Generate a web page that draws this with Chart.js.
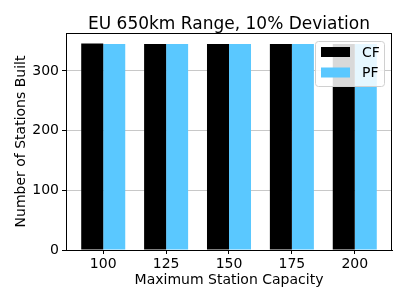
<!DOCTYPE html>
<html lang="en">
<head>
    <meta charset="UTF-8">
    <title>EU 650km Range, 10% Deviation</title>
    <script src="https://cdn.jsdelivr.net/npm/chart.js"></script>
    <style>
        html, body { margin: 0; padding: 0; background: #fff; }
        #wrap { width: 407px; height: 305px; }
    </style>
</head>
<body>
    <div id="wrap"><canvas id="chart" width="407" height="305"></canvas></div>

    <script>
        const capacities = [100, 125, 150, 175, 200];
        const cfValues = [346, 345, 345, 345, 345];
        const pfValues = [345, 345, 345, 345, 345];
        const yTicks = [0, 100, 200, 300];
        const titleText = 'EU 650km Range, 10% Deviation';

        const FONT = 'DejaVu Sans';

        // frame round the plot, title and the boxed legend (matplotlib look)
        const decor = {
            id: 'decor',
            afterDraw(chart) {
                const ctx = chart.ctx;
                const a = chart.chartArea;
                ctx.save();
                ctx.strokeStyle = '#000';
                ctx.lineWidth = 1;
                ctx.strokeRect(a.left + 0.5, a.top + 0.5, a.right - a.left - 1, a.bottom - a.top);

                ctx.fillStyle = '#000';
                ctx.font = '17px "' + FONT + '"';
                ctx.textAlign = 'center';
                ctx.textBaseline = 'alphabetic';
                ctx.fillText(titleText, (a.left + a.right) / 2, a.top - 4);

                // legend
                const items = chart.data.datasets;
                const w = 69, h = 45;
                const x = a.right - w - 8, y = a.top + 8;
                ctx.fillStyle = 'rgba(255,255,255,0.85)';
                ctx.strokeStyle = '#d0d0d0';
                ctx.beginPath();
                ctx.roundRect(x + 0.5, y + 0.5, w, h, 3);
                ctx.fill();
                ctx.stroke();
                ctx.font = '14px "' + FONT + '"';
                ctx.textAlign = 'left';
                ctx.textBaseline = 'middle';
                items.forEach((ds, i) => {
                    const cy = y + 11 + i * 20.5;
                    ctx.fillStyle = ds.backgroundColor;
                    ctx.fillRect(x + 6, cy - 5, 29, 10);
                    ctx.fillStyle = '#000';
                    ctx.fillText(ds.label, x + 47, cy + 1);
                });
                ctx.restore();
            }
        };

        new Chart(document.getElementById('chart'), {
            type: 'bar',
            data: {
                datasets: [
                    {
                        label: 'CF',
                        data: capacities.map((c, i) => ({ x: c, y: cfValues[i] })),
                        backgroundColor: '#000000'
                    },
                    {
                        label: 'PF',
                        data: capacities.map((c, i) => ({ x: c, y: pfValues[i] })),
                        backgroundColor: '#5ac8ff'
                    }
                ]
            },
            options: {
                responsive: false,
                animation: false,
                layout: { padding: { top: 33, right: 15, left: 0, bottom: 0 } },
                datasets: { bar: { barPercentage: 1, categoryPercentage: 0.7 } },
                plugins: {
                    legend: { display: false },
                    title: { display: false },
                    tooltip: { enabled: false }
                },
                scales: {
                    x: {
                        type: 'linear',
                        offset: false,
                        min: 85.2,
                        max: 214.8,
                        afterBuildTicks: s => { s.ticks = capacities.map(v => ({ value: v })); },
                        afterFit: s => { s.height = 55; },
                        grid: { offset: false, drawOnChartArea: false, tickColor: '#000', tickLength: 4 },
                        border: { color: '#000' },
                        ticks: { color: '#000', font: { family: FONT, size: 14 }, padding: 2, maxRotation: 0 },
                        title: {
                            display: true,
                            text: 'Maximum Station Capacity',
                            color: '#000',
                            font: { family: FONT, size: 14 },
                            padding: { top: 0, bottom: 16 }
                        }
                    },
                    y: {
                        min: 0,
                        max: 363.5,
                        afterBuildTicks: s => { s.ticks = yTicks.map(v => ({ value: v })); },
                        afterFit: s => { s.width = 66; },
                        grid: { color: '#c8c8c8', tickColor: '#000', tickLength: 4 },
                        border: { color: '#000' },
                        ticks: { color: '#000', font: { family: FONT, size: 14 }, padding: 3 },
                        title: {
                            display: true,
                            text: 'Number of Stations Built',
                            color: '#000',
                            font: { family: FONT, size: 14 },
                            padding: { top: 13, bottom: 0 }
                        }
                    }
                }
            },
            plugins: [decor]
        });
    </script>
</body>
</html>
